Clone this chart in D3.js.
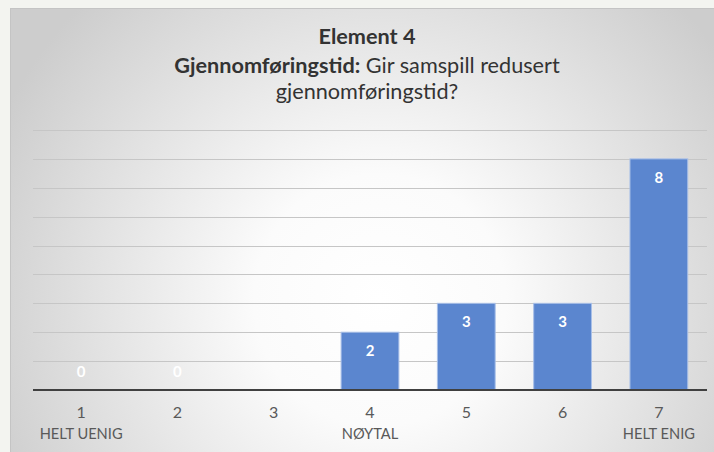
<!DOCTYPE html>
<html><head><meta charset="utf-8">
<script src="https://cdn.jsdelivr.net/npm/d3@7"></script>
<style>html,body{margin:0;padding:0;background:#f3f4f0;}svg{display:block;}</style>
</head><body>
<svg id="chart" width="714" height="452"></svg>
<script>
const categories = ["1","2","3","4","5","6","7"];
const subLabels = ["HELT UENIG","","","NØYTAL","","","HELT ENIG"];
const values = [0,0,null,2,3,3,8];
const yTicks = [0,1,2,3,4,5,6,7,8,9];
const titleLine1 = "Element 4";
const titleBold = "Gjennomføringstid:";
const titleRest = " Gir samspill redusert";
const titleLine3 = "gjennomføringstid?";

const FONT = "Lato, 'Open Sans', sans-serif";
const svg = d3.select("#chart");
const W = 714, H = 452;
const defs = svg.append("defs");
const grad = defs.append("radialGradient").attr("id","bg")
  .attr("gradientUnits","userSpaceOnUse").attr("cx",380).attr("cy",300).attr("r",420);
grad.append("stop").attr("offset","0").attr("stop-color","#ffffff");
grad.append("stop").attr("offset","0.3").attr("stop-color","#fbfbfb");
grad.append("stop").attr("offset","1").attr("stop-color","#cdcdcd");

svg.append("rect").attr("x",0).attr("y",0).attr("width",W).attr("height",H).attr("fill","#f3f4f0");
svg.append("rect").attr("x",10).attr("y",8).attr("width",W-10).attr("height",H-8).attr("fill","#c4c4c4");
svg.append("rect").attr("x",11).attr("y",9).attr("width",W-11).attr("height",H-9).attr("fill","url(#bg)");

const x = d3.scaleBand().domain(categories).range([33,707]).paddingInner(0.4).paddingOuter(0.2);
const y = d3.scaleLinear().domain([0,9]).range([390,130]);

const g = svg.append("g");
g.selectAll("line.grid").data(yTicks.filter(d=>d>0)).enter().append("line")
  .attr("x1",33).attr("x2",707).attr("y1",d=>Math.round(y(d))+0.5).attr("y2",d=>Math.round(y(d))+0.5)
  .attr("stroke","#c6c6c6").attr("stroke-width",1);

const data = categories.map((c,i)=>({c, v: values[i], s: subLabels[i]}));
g.selectAll("rect.bar").data(data.filter(d=>d.v!=null && d.v>0)).enter().append("rect")
  .attr("x",d=>x(d.c)).attr("width",x.bandwidth())
  .attr("y",d=>y(d.v)).attr("height",d=>y(0)-y(d.v))
  .attr("fill","#5b86cf").attr("stroke","#a8bfe8").attr("stroke-width",1);

g.append("line").attr("x1",33).attr("x2",707).attr("y1",y(0)).attr("y2",y(0))
  .attr("stroke","#404040").attr("stroke-width",2.2);

g.selectAll("text.val").data(data.filter(d=>d.v!=null)).enter().append("text")
  .attr("x",d=>x(d.c)+x.bandwidth()/2)
  .attr("y",d=>d.v>0 ? y(d.v)+24 : y(0)-13)
  .attr("text-anchor","middle").attr("font-family",FONT).attr("font-weight","bold")
  .attr("font-size",15).attr("fill","#ffffff").text(d=>d.v);

g.selectAll("text.cat").data(data).enter().append("text")
  .attr("x",d=>x(d.c)+x.bandwidth()/2).attr("y",418)
  .attr("text-anchor","middle").attr("font-family",FONT).attr("font-size",16)
  .attr("fill","#595959").text(d=>d.c);
const subs = g.selectAll("text.sub").data(data.filter(d=>d.s)).enter().append("text")
  .attr("x",d=>x(d.c)+x.bandwidth()/2).attr("y",439)
  .attr("text-anchor","middle").attr("font-family",FONT).attr("font-size",16)
  .attr("fill","#595959").text(d=>d.s);
// fit sub-label size so "HELT UENIG" is ~83px wide like the reference
const subW = subs.node().getComputedTextLength();
const subSize = 16 * 83 / subW;
subs.attr("font-size", subSize);
g.selectAll("text.cat").attr("font-size", subSize);

const cx = 367;
const tFont = 18.5;
const t1 = svg.append("text").attr("x",cx).attr("y",44).attr("text-anchor","middle")
  .attr("font-family",FONT).attr("font-weight","bold").attr("font-size",tFont).attr("fill","#333333")
  .text(titleLine1);
const t2 = svg.append("text").attr("x",cx).attr("y",73).attr("text-anchor","middle")
  .attr("font-family",FONT).attr("font-size",tFont).attr("fill","#333333");
t2.append("tspan").attr("font-weight","bold").text(titleBold);
t2.append("tspan").text(titleRest);
const t3 = svg.append("text").attr("x",cx).attr("y",99).attr("text-anchor","middle")
  .attr("font-family",FONT).attr("font-size",tFont).attr("fill","#333333")
  .text(titleLine3);
// fit title size so line 2 is ~386px wide
const w2 = t2.node().getBBox().width;
const ts = tFont * 386 / w2;
[t1,t2,t3].forEach(t=>t.attr("font-size", ts));
</script>
</body></html>
